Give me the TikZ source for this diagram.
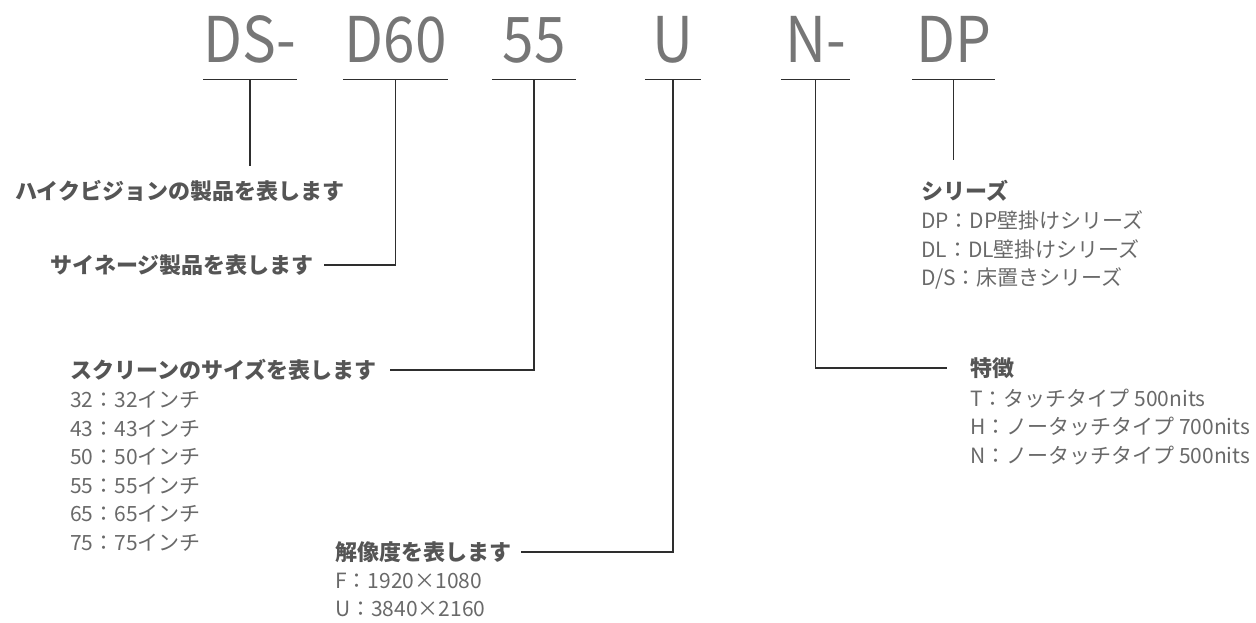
\documentclass[tikz,border=0pt]{standalone}
\usepackage{fontspec}
\setmainfont{Noto Sans CJK JP}
\usetikzlibrary{positioning}
\definecolor{codegray}{HTML}{767676}
\definecolor{titlegray}{HTML}{555555}
\definecolor{textgray}{HTML}{696969}
\definecolor{linegray}{HTML}{2E2E2E}
\newcommand{\codetext}[1]{\scalebox{0.9}[1]{#1}}
\tikzset{
  code/.style={font=\fontsize{63}{63}\selectfont, text=codegray,
               inner sep=0pt, text depth=16pt, anchor=base},
  title/.style={font=\fontsize{22}{26}\selectfont\bfseries, text=titlegray,
                inner sep=0pt, anchor=west},
  desc/.style={font=\fontsize{21}{28.6}\selectfont, text=textgray,
               inner sep=0pt, align=left},
  uline/.style={draw=linegray, line width=1.3pt},
  lead/.style={draw=linegray, line width=1.2pt},
}
\begin{document}
\begin{tikzpicture}[x=1pt, y=-1pt]
  \useasboundingbox (0,0) rectangle (1256,623);

  % --- model code parts ---
  \node[code, minimum width=84pt] (cDS) at (250,63) {\codetext{DS-}};
  \node[code, minimum width=105pt] (cD60) at (395.5,63) {\codetext{D60}};
  \node[code, minimum width=84pt] (c55) at (534,63) {\codetext{55}};
  \node[code, minimum width=56pt] (cU) at (673,63) {\codetext{U}};
  \node[code, minimum width=69pt] (cN) at (815.5,63) {\codetext{N-}};
  \node[code, minimum width=83pt] (cDP) at (953.5,63) {\codetext{DP}};
  \foreach \c in {cDS, cD60, c55, cU, cN, cDP}
    \draw[uline] (\c.south west) -- (\c.south east);

  % --- labels ---
  \node[title] (lHik) at (15,191) {ハイクビジョンの製品を表します};
  \node[title] (lSig) at (50,265) {サイネージ製品を表します};
  \node[title] (lSize) at (70,370) {スクリーンのサイズを表します};
  \node[desc, below=10pt of lSize.south west, anchor=north west] (sizeList)
    {32：32インチ\\ 43：43インチ\\ 50：50インチ\\ 55：55インチ\\ 65：65インチ\\ 75：75インチ};
  \node[title] (lRes) at (335,552) {解像度を表します};
  \node[desc, below=10pt of lRes.south west, anchor=north west] (resList)
    {F：1920×1080\\ U：3840×2160};
  \node[title] (lSeries) at (921,191) {シリーズ};
  \node[desc, below=9pt of lSeries.south west, anchor=north west] (seriesList)
    {DP：DP壁掛けシリーズ\\ DL：DL壁掛けシリーズ\\ D/S：床置きシリーズ};
  \node[title] (lFeat) at (970,368) {特徴};
  \node[desc, below=10pt of lFeat.south west, anchor=north west] (featList)
    {T：タッチタイプ 500nits\\ H：ノータッチタイプ 700nits\\ N：ノータッチタイプ 500nits};

  % --- leader lines ---
  \draw[lead, shorten >=14pt] (cDS.south) -- (cDS.south |- lHik.north);
  \draw[lead, shorten >=10pt] (cD60.south) |- (lSig.east);
  \draw[lead, shorten >=13pt] (c55.south) |- (lSize.east);
  \draw[lead, shorten >=10pt] (cU.south) |- (lRes.east);
  \draw[lead, shorten >=23pt] (cN.south) |- (lFeat.west);
  \draw[lead, shorten >=20pt] (cDP.south) -- (cDP.south |- lSeries.north);
\end{tikzpicture}
\end{document}
